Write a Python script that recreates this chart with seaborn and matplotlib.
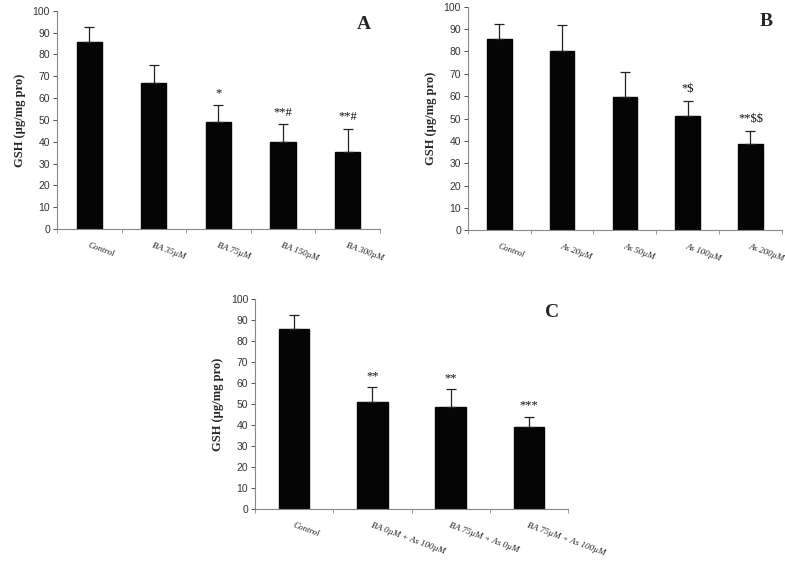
import numpy as np
import pandas as pd
import matplotlib.pyplot as plt
import seaborn as sns

sns.set_theme(style="white")
plt.rcParams["font.family"] = ["Liberation Sans", "DejaVu Sans"]

# --- Daten ---
labels_a = ["Control", "BA 35µM", "BA 75µM", "BA 150µM", "BA 300µM"]
means_a = [85.5, 67, 49, 40, 35.5]
err_a = [7, 8, 8, 8, 10.5]
sig_a = ["", "", "*", "**#", "**#"]

labels_b = ["Control", "As 20µM", "As 50µM", "As 100µM", "As 200µM"]
means_b = [85.5, 80, 59.5, 51, 38.5]
err_b = [7, 12, 11.5, 7, 6]
sig_b = ["", "", "", "*$", "**$$"]

labels_c = ["Control", "BA 0µM + As 100µM", "BA 75µM + As 0µM", "BA 75µM + As 100µM"]
means_c = [85.5, 51, 48.5, 39]
err_c = [7, 7, 8.5, 5]
sig_c = ["", "**", "**", "***"]

fig = plt.figure(figsize=(7.85, 5.67), dpi=100)
ax_a = fig.add_axes([0.0726, 0.596, 0.4114, 0.385])
ax_b = fig.add_axes([0.596, 0.594, 0.400, 0.394])
ax_c = fig.add_axes([0.325, 0.1023, 0.3986, 0.3704])


def panel(ax, labels, means, errs, sigs, letter, width):
    df = pd.DataFrame({"group": labels, "gsh": means})
    sns.barplot(data=df, x="group", y="gsh", color="#050505", width=width,
                saturation=1, edgecolor="#050505", ax=ax)
    x = np.arange(len(labels))
    ax.errorbar(x, means, yerr=[np.zeros(len(errs)), errs], fmt="none",
                ecolor="#222222", elinewidth=0.9, capsize=3.5, capthick=0.9)
    for xi, m, e, s in zip(x, means, errs, sigs):
        if s:
            ax.text(xi, m + e + 2.5, s, ha="center", va="bottom", fontsize=9,
                    family=["Liberation Serif", "DejaVu Serif"], color="#111111",
                    parse_math=False)
    ax.set_ylim(0, 100)
    ax.set_xlim(-0.5, len(labels) - 0.5)
    ax.set_yticks(range(0, 101, 10))
    ax.tick_params(axis="y", labelsize=7.5, colors="#333333", length=3,
                   width=0.6, direction="out", left=True, pad=2)
    ax.set_xticks(x)
    ax.set_xticks(np.arange(-0.5, len(labels)), minor=True)
    ax.tick_params(axis="x", which="major", length=0, pad=9)
    ax.tick_params(axis="x", which="minor", length=3, width=0.6,
                   direction="out", bottom=True, color="#888888")
    ax.set_xticklabels(labels, rotation=-20, ha="left", rotation_mode="anchor",
                       fontsize=6.5, style="italic",
                       family=["Liberation Serif", "DejaVu Serif"],
                       color="#222222")
    for lab in ax.get_yticklabels():
        lab.set_color("#333333")
    ax.set_xlabel("")
    ax.set_ylabel("GSH (µg/mg pro)", fontsize=9, fontweight="bold",
                  family=["Liberation Serif", "DejaVu Serif"], labelpad=5)
    sns.despine(ax=ax)
    for side in ["left", "bottom"]:
        ax.spines[side].set_color("#888888")
        ax.spines[side].set_linewidth(0.8)
    ax.text(0.95, 0.935, letter, transform=ax.transAxes, ha="center",
            va="center", fontsize=14, fontweight="bold",
            family=["Liberation Serif", "DejaVu Serif"])


panel(ax_a, labels_a, means_a, err_a, sig_a, "A", 0.39)
panel(ax_b, labels_b, means_b, err_b, sig_b, "B", 0.39)
panel(ax_c, labels_c, means_c, err_c, sig_c, "C", 0.39)

# letzte Beschriftung in B etwas nach links, damit sie im Bild bleibt
ax_b.get_xticklabels()[-1].set_x(3.85)

fig.savefig("out.png", dpi=100, facecolor="white")
